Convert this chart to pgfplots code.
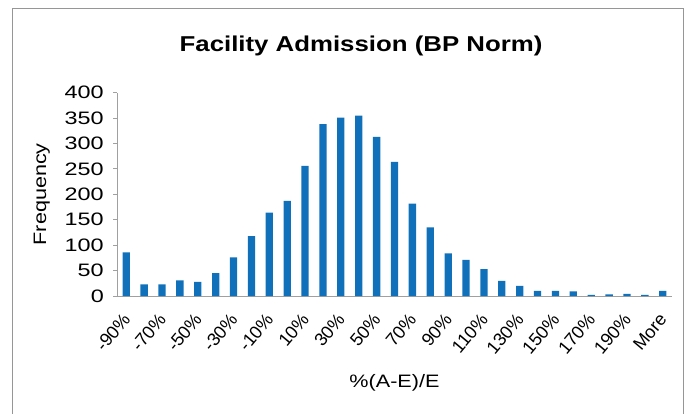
\documentclass[border=0pt]{standalone}
\usepackage{fontspec}
\setmainfont[FakeStretch=1.2]{Liberation Sans}
\newfontfamily\ytickfont[FakeStretch=1.3]{Liberation Sans}
\newfontfamily\xtickfont{Liberation Sans}
\usepackage{pgfplots}
\pgfplotsset{compat=1.18}
\definecolor{barblue}{RGB}{16,112,186}
\definecolor{axgray}{RGB}{160,160,160}
\definecolor{framegray}{RGB}{150,150,150}
\begin{document}
\begin{tikzpicture}
\useasboundingbox (0,0) rectangle (686pt,-413pt);
\draw[framegray, line width=1pt] (12pt,-440pt) -- (12pt,-8pt) -- (683pt,-8pt) -- (683pt,-440pt);
\begin{axis}[
  at={(117.3pt,-296pt)}, anchor=south west,
  scale only axis, width=554.4pt, height=203.3pt,
  xmin=-0.5, xmax=30.5, ymin=0, ymax=400,
  axis lines*=left,
  axis line style={axgray, line width=0.9pt},
  every tick/.style={axgray, line width=0.9pt},
  tick align=outside,
  ytick={0,50,...,400},
  major tick length=4pt,
  xtick={0,2,...,30},
  xticklabels={-90\%,-70\%,-50\%,-30\%,-10\%,10\%,30\%,50\%,70\%,90\%,110\%,130\%,150\%,170\%,190\%,More},
  x tick style={draw=none},
  minor xtick={-0.5,0.5,...,30.5},
  minor x tick style={axgray, line width=0.9pt},
  minor tick length=5pt,
  /pgf/number format/assume math mode=true,
  xticklabel style={font=\xtickfont\fontsize{18}{20}\selectfont, text=black, inner sep=0pt, xshift=5pt, yshift=-20pt, rotate=50, anchor=base east},
  yticklabel style={font=\ytickfont\fontsize{18}{20}\selectfont, text=black, xshift=-6pt},
  title={\textbf{Facility Admission (BP Norm)}},
  title style={at={(axis description cs:0.4396,1.200)}, anchor=center, font=\fontsize{21.5}{24}\selectfont},
  xlabel={\%(A-E)/E},
  ylabel={Frequency},
  every axis x label/.style={at={(axis description cs:0.5,-0.428)}, anchor=center, font=\fontsize{18}{20}\selectfont},
  every axis y label/.style={at={(axis description cs:-0.136,0.5)}, rotate=90, anchor=center, font=\fontsize{18}{20}\selectfont},
  ybar, bar width=7.3pt,
]
\addplot[fill=barblue, draw=none] coordinates {
(0,86) (1,23) (2,23) (3,31) (4,28) (5,45) (6,76) (7,118) (8,164) (9,187)
(10,256) (11,338) (12,351) (13,355) (14,313) (15,264) (16,182) (17,135) (18,84) (19,71)
(20,53) (21,30) (22,20) (23,10) (24,10) (25,9) (26,2) (27,3) (28,4) (29,2) (30,10)
};
\end{axis}
\end{tikzpicture}
\end{document}
